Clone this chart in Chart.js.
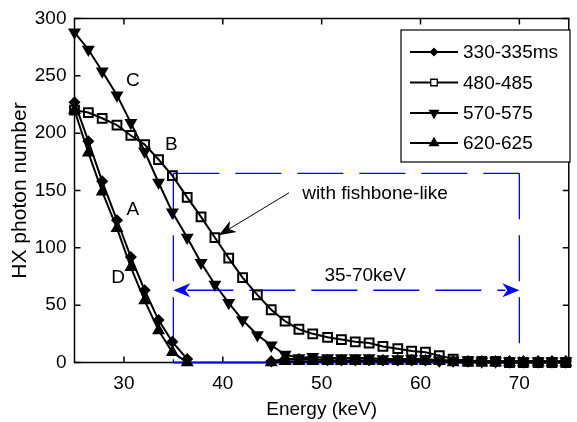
<!DOCTYPE html>
<html>
<head>
<meta charset="utf-8">
<script src="https://cdn.jsdelivr.net/npm/chart.js@4/dist/chart.umd.min.js"></script>
<style>
  html, body { margin: 0; padding: 0; background: #fff; }
  #wrap { width: 577px; height: 422px; }
</style>
</head>
<body>
<div id="wrap"><canvas id="spectrum"></canvas></div>
<script>
// energy bins (keV) and photon counts per time window
const energy = [25.0, 26.4, 27.8, 29.3, 30.7, 32.1, 33.5, 34.9, 36.4, 37.8, 39.2, 40.6,
                42.0, 43.5, 44.9, 46.3, 47.7, 49.1, 50.6, 52.0, 53.4, 54.8, 56.2, 57.7,
                59.1, 60.5, 61.9, 63.3, 64.8, 66.2, 67.6, 69.0, 70.4, 71.9, 73.3, 74.7];

const counts330 = [227, 193, 158, 124, 92, 63, 37, 18, 3, null, null, null,
                   null, null, 1, 3, 3, 3, 2, 2, 2, 2, 2, 2,
                   2, 2, 1, 1, 1, 1, 1, 1, 1, 1, 1, 1];
const counts480 = [220, 218, 213, 207, 198, 190, 177, 163, 144, 127, 109, 91,
                   74, 59, 46, 36, 29, 25, 22, 20, 18, 17, 14, 12,
                   10, 9, 6, 3, 1, 1, 1, 0, 0, 0, 0, 0];
const counts570 = [288, 273, 254, 233, 209, 184, 157, 131, 109, 87, 68, 52,
                   37, 24, 15, 7, 4, 5, 4, 4, 4, 4, 3, 3,
                   3, 3, 2, 2, 2, 1, 1, 1, 1, 1, 1, 1];
const counts620 = [220, 183, 149, 117, 83, 54, 28, 9, 0, null, null, null,
                   null, null, 0, 1, 1, 1, 1, 1, 1, 1, 1, 1,
                   1, 1, 1, 0, 0, 0, 0, 0, 0, 0, 0, 0];

const seriesNames = ["330-335ms", "480-485", "570-575", "620-625"];
const xTicks = [30, 40, 50, 60, 70];
const yTicks = [0, 50, 100, 150, 200, 250, 300];

// highlighted band
const bandKeV = [35, 70];
const bandTop = 165;
const bandArrowY = 63;

const FONT = "'Liberation Sans', Arial, sans-serif";

function toPoints(vals) {
    return vals.map((v, i) => ({ x: energy[i], y: v }));
}

const markers = [
    { pointStyle: "rectRot", radius: 5, rotation: 0, fill: "#000", legendRadius: 3.5 },
    { pointStyle: "rect", radius: 6.2, rotation: 0, fill: "rgba(0,0,0,0)", legendRadius: 4.6 },
    { pointStyle: "triangle", radius: 6, rotation: 180, fill: "#000", legendRadius: 5 },
    { pointStyle: "triangle", radius: 6, rotation: 0, fill: "#000", legendRadius: 5 }
];

const allCounts = [counts330, counts480, counts570, counts620];

const datasets = allCounts.map((vals, i) => ({
    label: seriesNames[i],
    data: toPoints(vals),
    borderColor: "#000",
    borderWidth: 2,
    tension: 0,
    spanGaps: false,
    pointStyle: markers[i].pointStyle,
    pointRadius: markers[i].radius,
    pointRotation: markers[i].rotation,
    pointBackgroundColor: markers[i].fill,
    pointBorderColor: "#000",
    pointBorderWidth: i === 1 ? 2 : 1.5,
    clip: { left: 8, top: 8, right: 8, bottom: 8 }
}));

function arrowHead(ctx, tx, ty, angle, len, half, notch) {
    const dx = Math.cos(angle), dy = Math.sin(angle);
    const bx = tx - len * dx, by = ty - len * dy;
    ctx.beginPath();
    ctx.moveTo(tx, ty);
    ctx.lineTo(bx - half * dy, by + half * dx);
    ctx.lineTo(tx - (len - notch) * dx, ty - (len - notch) * dy);
    ctx.lineTo(bx + half * dy, by - half * dx);
    ctx.closePath();
    ctx.fill();
}

const notes = {
    id: "notes",
    beforeDatasetsDraw(chart) {
        const { ctx, chartArea: a, scales: { x, y } } = chart;
        ctx.save();

        // axes box with inward ticks
        ctx.strokeStyle = "#000";
        ctx.lineWidth = 1.5;
        ctx.strokeRect(a.left, a.top, a.right - a.left, a.bottom - a.top);
        ctx.beginPath();
        xTicks.forEach(v => {
            const px = x.getPixelForValue(v);
            ctx.moveTo(px, a.bottom); ctx.lineTo(px, a.bottom - 6);
            ctx.moveTo(px, a.top); ctx.lineTo(px, a.top + 6);
        });
        yTicks.forEach(v => {
            const py = y.getPixelForValue(v);
            ctx.moveTo(a.left, py); ctx.lineTo(a.left + 6, py);
            ctx.moveTo(a.right, py); ctx.lineTo(a.right - 6, py);
        });
        ctx.stroke();

        // blue dashed band 35-70 keV
        const x0 = x.getPixelForValue(bandKeV[0]);
        const x1 = x.getPixelForValue(bandKeV[1]);
        const yT = y.getPixelForValue(bandTop);
        const yB = y.getPixelForValue(0);
        const yA = y.getPixelForValue(bandArrowY);
        ctx.strokeStyle = "#0000ff";
        ctx.fillStyle = "#0000ff";
        ctx.lineWidth = 1.3;
        ctx.setLineDash([46, 16]);
        ctx.beginPath();
        ctx.moveTo(x0, yT); ctx.lineTo(x1, yT);
        ctx.moveTo(x0, yT); ctx.lineTo(x0, yB);
        ctx.moveTo(x1, yT); ctx.lineTo(x1, yB);
        ctx.stroke();
        ctx.beginPath();
        ctx.moveTo(x0 + 14, yA); ctx.lineTo(x1 - 14, yA);
        ctx.stroke();
        ctx.setLineDash([]);
        ctx.lineWidth = 2;
        ctx.beginPath();
        ctx.moveTo(x0, yB); ctx.lineTo(x1, yB);
        ctx.stroke();
        arrowHead(ctx, x0, yA, Math.PI, 17, 7, 5);
        arrowHead(ctx, x1, yA, 0, 17, 7, 5);

        // text labels
        ctx.fillStyle = "#000";
        ctx.font = "19px " + FONT;
        ctx.textAlign = "center";
        ctx.textBaseline = "middle";
        ctx.fillText("35-70keV", x.getPixelForValue(54.4), y.getPixelForValue(76));
        ctx.fillText("with fishbone-like", x.getPixelForValue(55.4), y.getPixelForValue(147));
        ctx.fillText("C", x.getPixelForValue(30.9), y.getPixelForValue(246));
        ctx.fillText("B", x.getPixelForValue(34.8), y.getPixelForValue(190));
        ctx.fillText("A", x.getPixelForValue(30.9), y.getPixelForValue(133));
        ctx.fillText("D", x.getPixelForValue(29.4), y.getPixelForValue(74));

        // pointer to the 480-485 curve
        const sx = x.getPixelForValue(46.7), sy = y.getPixelForValue(148);
        const tx = x.getPixelForValue(39.6), ty = y.getPixelForValue(111);
        const ang = Math.atan2(ty - sy, tx - sx);
        ctx.strokeStyle = "#000";
        ctx.lineWidth = 1;
        ctx.beginPath();
        ctx.moveTo(sx, sy);
        ctx.lineTo(tx - 10 * Math.cos(ang), ty - 10 * Math.sin(ang));
        ctx.stroke();
        arrowHead(ctx, tx, ty, ang, 17, 6.5, 5);

        ctx.restore();
    },
    afterDraw(chart) {
        const { ctx } = chart;
        ctx.save();
        // legend
        ctx.fillStyle = "#fff";
        ctx.fillRect(401, 30, 169, 132);
        ctx.strokeStyle = "#000";
        ctx.lineWidth = 1.2;
        ctx.strokeRect(401, 30, 169, 132);
        const rows = [52, 82.5, 113, 143];
        ctx.font = "19px " + FONT;
        ctx.textAlign = "left";
        ctx.textBaseline = "middle";
        seriesNames.forEach((name, i) => {
            const ry = rows[i];
            ctx.strokeStyle = "#000";
            ctx.lineWidth = 2;
            ctx.beginPath();
            ctx.moveTo(410, ry); ctx.lineTo(458, ry);
            ctx.stroke();
            ctx.fillStyle = i === 1 ? "#fff" : markers[i].fill;
            ctx.lineWidth = 1.3;
            Chart.helpers.drawPoint(ctx, {
                pointStyle: markers[i].pointStyle,
                radius: markers[i].legendRadius,
                rotation: markers[i].rotation,
                borderWidth: 1.3
            }, 434, ry);
            ctx.fillStyle = "#000";
            ctx.fillText(name, 463, ry + 1);
        });
        ctx.restore();
    }
};

const spectrum = document.getElementById("spectrum").getContext("2d");

new Chart(spectrum, {
    type: "line",
    data: { datasets: datasets },
    options: {
        responsive: true,
        maintainAspectRatio: false,
        animation: false,
        devicePixelRatio: 1,
        layout: { padding: { top: 18.5, right: 1, left: 0, bottom: 0 } },
        plugins: {
            legend: { display: false },
            tooltip: { enabled: false }
        },
        scales: {
            x: {
                type: "linear",
                min: 25,
                max: 75,
                afterBuildTicks: s => { s.ticks = xTicks.map(v => ({ value: v })); },
                afterFit: s => { s.height = 59.5; },
                grid: { display: false },
                border: { display: false },
                ticks: { color: "#000", font: { family: FONT, size: 19 }, padding: 2, maxRotation: 0 },
                title: {
                    display: true,
                    text: "Energy (keV)",
                    color: "#000",
                    font: { family: FONT, size: 19 },
                    padding: { top: 0, bottom: 1 }
                }
            },
            y: {
                min: 0,
                max: 300,
                afterBuildTicks: s => { s.ticks = yTicks.map(v => ({ value: v })); },
                afterFit: s => { s.width = 74.5; },
                grid: { display: false },
                border: { display: false },
                ticks: { color: "#000", font: { family: FONT, size: 19 }, padding: 0 },
                title: {
                    display: true,
                    text: "HX photon number",
                    color: "#000",
                    font: { family: FONT, size: 21 },
                    padding: { top: 8, bottom: 0 }
                }
            }
        }
    },
    plugins: [notes]
});
</script>
</body>
</html>
